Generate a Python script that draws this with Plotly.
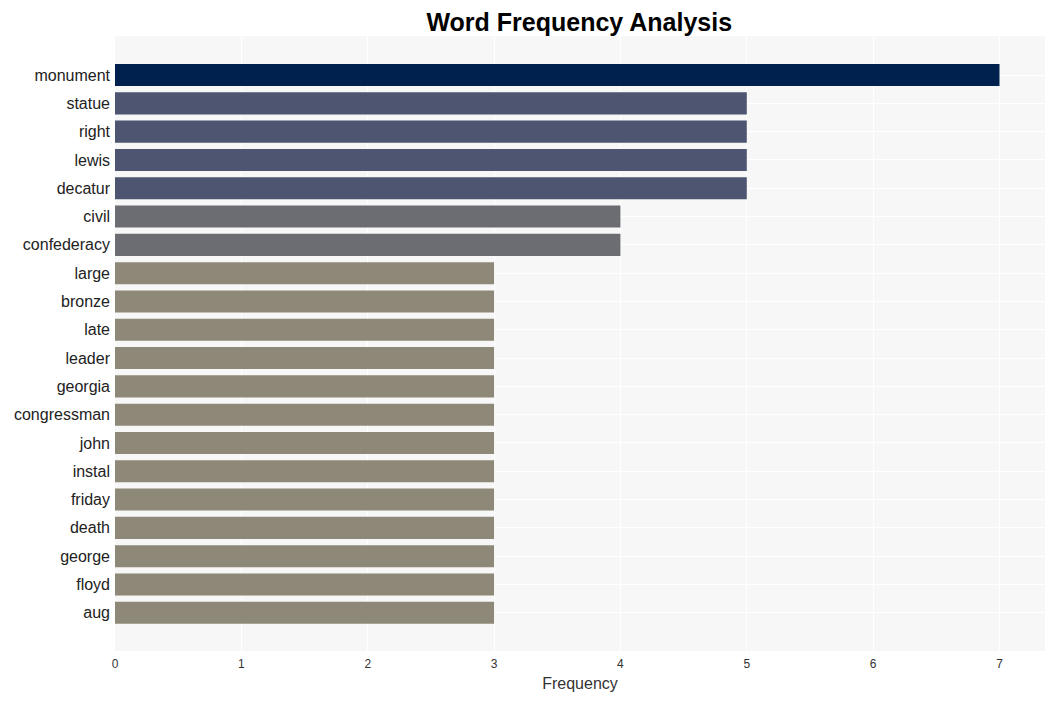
import plotly.graph_objects as go

words = ["monument", "statue", "right", "lewis", "decatur", "civil", "confederacy",
         "large", "bronze", "late", "leader", "georgia", "congressman", "john",
         "instal", "friday", "death", "george", "floyd", "aug"]
freqs = [7, 5, 5, 5, 5, 4, 4, 3, 3, 3, 3, 3, 3, 3, 3, 3, 3, 3, 3, 3]
color_map = {7: "#00214e", 5: "#4d5571", 4: "#6c6d72", 3: "#8d8878"}
colors = [color_map[f] for f in freqs]

fig = go.Figure(go.Bar(
    x=freqs, y=words, orientation="h",
    marker=dict(color=colors, line=dict(width=0)),
    width=0.78,
))

fig.update_layout(
    width=1054, height=701,
    title=dict(text="<b>Word Frequency Analysis</b>", x=0.542, xanchor="center", y=0.98,
               yanchor="middle",
               font=dict(family="Arial, Liberation Sans", size=25, color="#000")),
    margin=dict(l=107, r=17, t=28, b=58),
    paper_bgcolor="white",
    plot_bgcolor="#f7f7f7",
    font=dict(family="Arial, Liberation Sans", color="#333"),
    xaxis=dict(range=[0, 7.36], dtick=1, showgrid=True, gridcolor="white", gridwidth=1,
               zeroline=False, title=dict(text="Frequency", font=dict(size=16, color="#333"), standoff=7),
               tickfont=dict(size=12, color="#333"), ticks="", ticklabelstandoff=4,
               automargin=False),
    yaxis=dict(categoryorder="array", categoryarray=words, range=[20.35, -1.38],
               showgrid=True, gridcolor="white", tickfont=dict(size=16, color="#222"),
               ticks="", ticklabelstandoff=4, automargin=False),
    bargap=0.2,
)

fig.write_html("out.html")
